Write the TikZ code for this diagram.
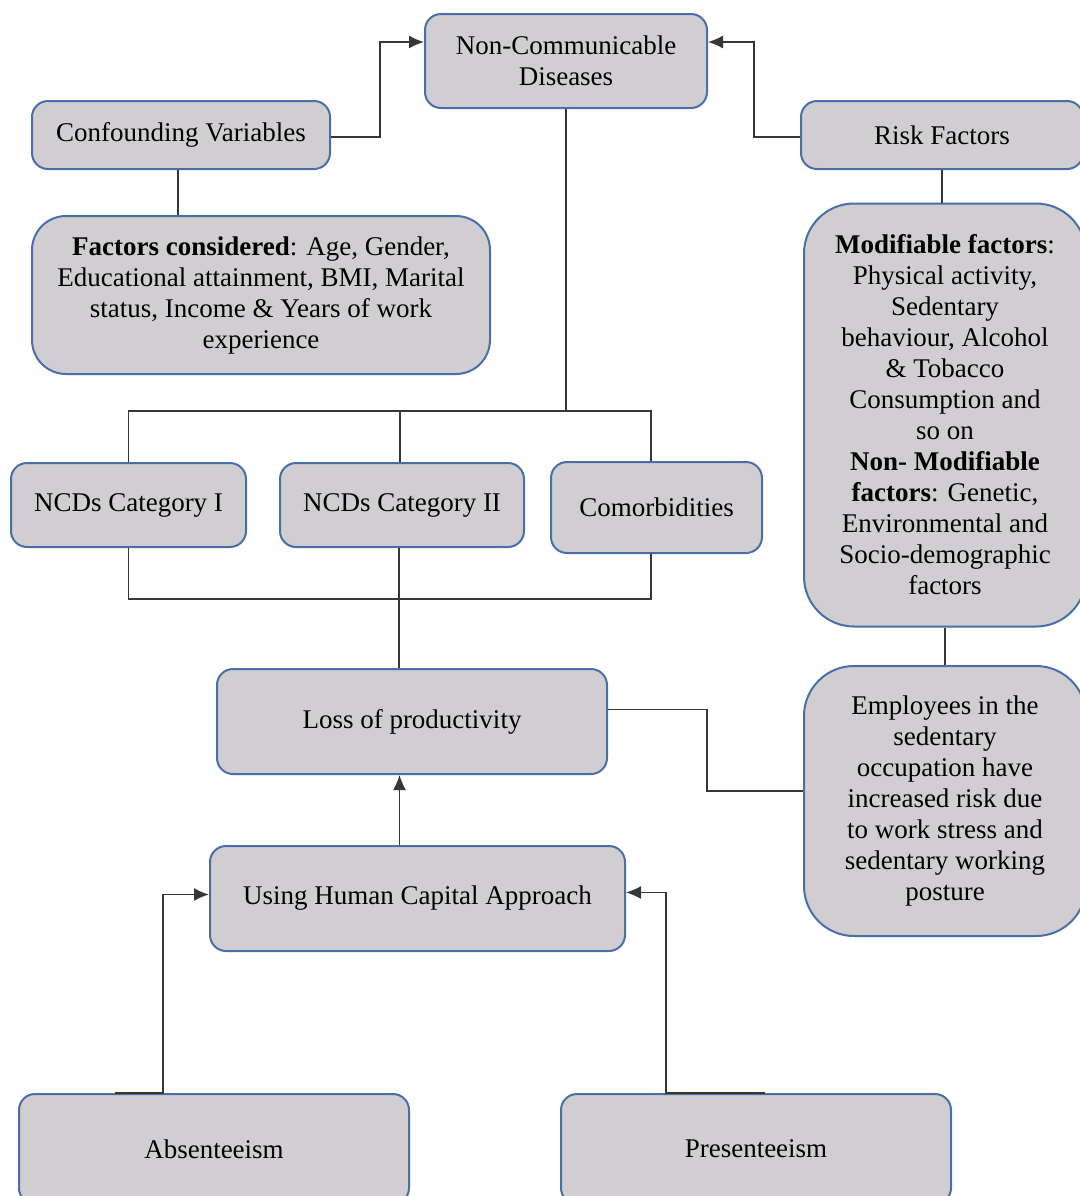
\documentclass[tikz,border=0pt]{standalone}
\usepackage{fontspec}
\setmainfont{Liberation Serif}
\usetikzlibrary{arrows.meta}
\definecolor{boxfill}{RGB}{208,206,209}
\definecolor{boxline}{RGB}{74,110,170}
\definecolor{linkline}{RGB}{55,55,55}

\begin{document}
\begin{tikzpicture}[x=0.5pt,y=0.5pt,yscale=-1,xscale=1,
	box/.style={draw=boxline,line width=1pt,fill=boxfill,rounded corners=8pt,align=center,inner sep=0pt,font=\fontsize{13.5}{15.5}\selectfont},
	link/.style={draw=linkline,line width=0.7pt},
	arr/.style={link,-{Latex[length=7.5pt,width=6.5pt]}}]
	\useasboundingbox (0,0) rectangle (1080,1196);
	\clip (0,0) rectangle (1080,1196);
	\node [box,minimum width=141pt,minimum height=47pt] (ncd) at (566,61) {Non-Communicable\\Diseases};
	\node [box,minimum width=149pt,minimum height=34pt] (conf) at (181,135) {Confounding Variables};
	\node [box,minimum width=141pt,minimum height=34pt] (risk) at (942,135) {Risk Factors};
	\node [box,minimum width=229pt,minimum height=79pt,rounded corners=17pt] (factors) at (261,295) {\textbf{Factors considered}: Age, Gender,\\Educational attainment, BMI, Marital\\status, Income \& Years of work\\experience};
	\node [box,minimum width=141pt,minimum height=211.5pt,rounded corners=25pt] (modif) at (945,415) {\textbf{Modifiable factors}:\\Physical activity,\\Sedentary\\behaviour, Alcohol\\\& Tobacco\\Consumption and\\so on\\\textbf{Non- Modifiable}\\\textbf{factors}: Genetic,\\Environmental and\\Socio-demographic\\factors};
	\node [box,minimum width=117.5pt,minimum height=42pt] (cat1) at (128.5,505) {NCDs Category I};
	\node [box,minimum width=122pt,minimum height=42pt] (cat2) at (402,505) {NCDs Category II};
	\node [box,minimum width=105.5pt,minimum height=45.5pt] (comorb) at (656.5,507.5) {Comorbidities};
	\node [box,minimum width=195pt,minimum height=52.5pt] (loss) at (412,721.5) {Loss of productivity};
	\node [box,minimum width=141pt,minimum height=135pt,rounded corners=25pt] (emp) at (945,801) {Employees in the\\sedentary\\occupation have\\increased risk due\\to work stress and\\sedentary working\\posture};
	\node [box,minimum width=207.5pt,minimum height=52.5pt] (human) at (417.5,898.5) {Using Human Capital Approach};
	\node [box,minimum width=195pt,minimum height=55pt] (absent) at (214,1149) {Absenteeism};
	\node [box,minimum width=195pt,minimum height=55pt] (pres) at (756,1149) {Presenteeism};
	\coordinate (topbus) at (565,411);
	\coordinate (lowbus) at (400,599);
	\draw [arr] ([yshift=1pt]conf.east) -- ++(49,0) |- ([yshift=-9.5pt]ncd.west);
	\draw [arr] ([yshift=1pt]risk.west) -- ++(-46,0) |- ([yshift=-9.5pt]ncd.east);
	\draw [link] ([xshift=-1.5pt]conf.south) -- ([xshift=-1.5pt]conf.south |- factors.north);
	\draw [link] (risk.south) -- (risk.south |- modif.north);
	\draw [link] (ncd.south) -- (ncd.south |- topbus);
	\draw [link] (cat1.north) -- (cat1.north |- topbus) -- ([xshift=-2.75pt]comorb.north |- topbus) -- ([xshift=-2.75pt]comorb.north);
	\draw [link] ([xshift=-1pt]cat2.north) -- ([xshift=-1pt]cat2.north |- topbus);
	\draw [link] (cat1.south) -- (cat1.south |- lowbus) -- ([xshift=-2.75pt]comorb.south |- lowbus) -- ([xshift=-2.75pt]comorb.south);
	\draw [link] ([xshift=-1.5pt]cat2.south) -- ([xshift=-1.5pt]cat2.south |- loss.north);
	\draw [link] (modif.south) -- (emp.north);
	\draw [link] ([yshift=-6pt]loss.east) -- ++(99,0) |- ([yshift=-5pt]emp.west);
	\draw [arr] ([xshift=-9pt]human.north) -- ([xshift=-9pt]human.north |- loss.south);
	\draw [arr] ([xshift=-49.5pt]absent.north) -- ([xshift=-25.5pt]absent.north) |- ([yshift=-2pt]human.west);
	\draw [arr] ([xshift=4.5pt]pres.north) -- ([xshift=-45pt]pres.north) |- ([yshift=-3pt]human.east);
\end{tikzpicture}
\end{document}
